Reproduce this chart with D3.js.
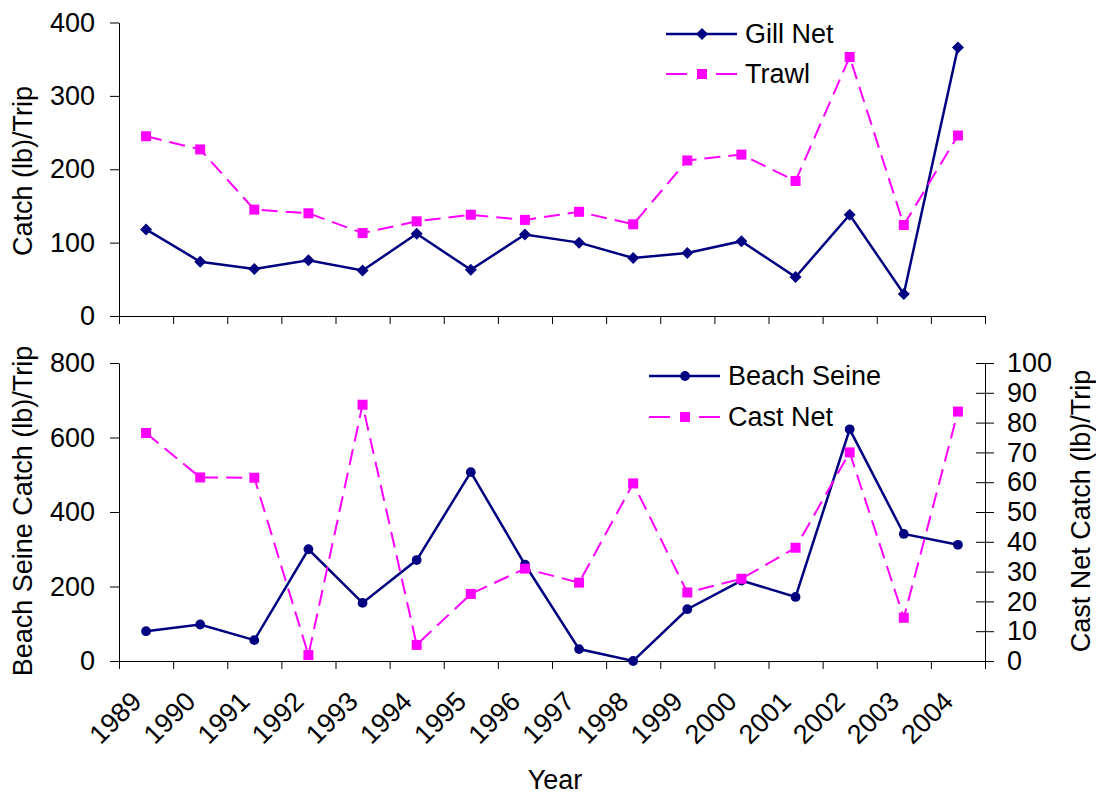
<!DOCTYPE html>
<html>
<head>
  <meta charset="utf-8">
  <title>Catch per Trip</title>
  <style>
    body { margin: 0; background: #fff; }
    svg text { font-family: "Liberation Sans", Arial, sans-serif; fill: #000; }
    .axis path, .axis line { stroke: #000; stroke-width: 1px; }
    .axis text { font-size: 27px; }
    .title { font-size: 27px; }
    .legend text { font-size: 27px; }
  </style>
</head>
<body>
  <div id="chart"></div>

  <script src="https://cdn.jsdelivr.net/npm/d3@7"></script>
  <script>
    var years = ["1989","1990","1991","1992","1993","1994","1995","1996",
                 "1997","1998","1999","2000","2001","2002","2003","2004"];

    var gillNet = [118, 74, 64, 76, 62, 112, 63, 111, 100, 79, 86, 102, 53, 138, 30, 366];
    var trawl = [245, 227, 145, 140, 113, 129, 138, 131, 142, 125, 212, 220, 184, 353, 124, 246];

    var beachSeine = [80, 98, 56, 300, 156, 271, 507, 259, 32, 0, 139, 216, 172, 622, 341, 312];
    var castNet = [76.5, 61.6, 61.5, 2, 86, 5.4, 22.5, 31, 26.3, 59.6, 23, 27.6, 38, 70, 14.5, 83.7];

    var topTicks = [0, 100, 200, 300, 400];
    var leftTicks = [0, 200, 400, 600, 800];
    var rightTicks = [0, 10, 20, 30, 40, 50, 60, 70, 80, 90, 100];

    var navy = "#000080", magenta = "#ff00ff";

    var svg = d3.select("#chart").append("svg")
      .attr("width", 1096)
      .attr("height", 795);

    var x = d3.scaleBand().domain(years).range([119, 985]).padding(0);
    var xEdge = d3.scaleLinear().domain([0, years.length]).range([119, 985]);
    function cx(d, i) { return x(years[i]) + x.bandwidth() / 2; }

    var yTop = d3.scaleLinear().domain([0, 400]).range([316, 22.5]);
    var yLeft = d3.scaleLinear().domain([0, 800]).range([661, 363]);
    var yRight = d3.scaleLinear().domain([0, 100]).range([661, 363]);

    // ---- axes
    function xAxis(yPos) {
      svg.append("g")
        .attr("class", "axis")
        .attr("transform", "translate(0," + yPos + ")")
        .call(d3.axisBottom(xEdge).tickValues(d3.range(years.length + 1))
          .tickFormat("").tickSize(8).tickSizeOuter(0));
    }
    xAxis(316);
    xAxis(661);

    svg.append("g")
      .attr("class", "axis")
      .attr("transform", "translate(119,0)")
      .call(d3.axisLeft(yTop).tickValues(topTicks).tickSize(9).tickSizeOuter(0).tickPadding(15));

    svg.append("g")
      .attr("class", "axis")
      .attr("transform", "translate(119,0)")
      .call(d3.axisLeft(yLeft).tickValues(leftTicks).tickSize(9).tickSizeOuter(0).tickPadding(15));

    var rAxis = svg.append("g")
      .attr("class", "axis")
      .attr("transform", "translate(985,0)")
      .call(d3.axisRight(yRight).tickValues(rightTicks).tickSize(9).tickSizeOuter(0).tickPadding(13));
    rAxis.selectAll(".tick line").attr("x1", -9);

    svg.selectAll(".axis .domain").attr("stroke", "#000");

    // year labels under the lower chart
    svg.append("g")
      .selectAll("text")
      .data(years)
      .enter()
      .append("text")
      .attr("class", "title")
      .attr("text-anchor", "end")
      .attr("transform", function(d) {
        return "translate(" + (x(d) + x.bandwidth() / 2 - 3) + ",703) rotate(-45)";
      })
      .text(function(d) { return d; });

    // axis titles
    svg.append("text").attr("class", "title")
      .attr("text-anchor", "middle")
      .attr("transform", "translate(32,171) rotate(-90)")
      .text("Catch (lb)/Trip");

    svg.append("text").attr("class", "title")
      .attr("text-anchor", "middle")
      .attr("transform", "translate(32,511) rotate(-90)")
      .text("Beach Seine Catch (lb)/Trip");

    svg.append("text").attr("class", "title")
      .attr("text-anchor", "middle")
      .attr("transform", "translate(1090,511) rotate(-90)")
      .text("Cast Net Catch (lb)/Trip");

    svg.append("text").attr("class", "title")
      .attr("text-anchor", "middle")
      .attr("x", 555).attr("y", 789)
      .text("Year");

    // ---- series
    function drawLine(values, yScale, color, dashed) {
      var line = d3.line().x(cx).y(function(d) { return yScale(d); });
      svg.append("path")
        .datum(values)
        .attr("fill", "none")
        .attr("stroke", color)
        .attr("stroke-width", dashed ? 2 : 2.5)
        .attr("stroke-dasharray", dashed ? "16,8" : null)
        .attr("d", line);
    }

    function drawMarkers(values, yScale, color, shape) {
      var g = svg.append("g").attr("fill", color);
      g.selectAll("path")
        .data(values)
        .enter()
        .append("path")
        .attr("transform", function(d, i) {
          return "translate(" + cx(d, i) + "," + yScale(d) + ")";
        })
        .attr("d", markerPath(shape));
    }

    function markerPath(shape) {
      if (shape === "diamond") return "M0,-6L6,0L0,6L-6,0Z";
      if (shape === "square") return "M-5,-5H5V5H-5Z";
      return d3.symbol().type(d3.symbolCircle).size(75)();
    }

    drawLine(gillNet, yTop, navy, false);
    drawMarkers(gillNet, yTop, navy, "diamond");
    drawLine(trawl, yTop, magenta, true);
    drawMarkers(trawl, yTop, magenta, "square");

    drawLine(beachSeine, yLeft, navy, false);
    drawMarkers(beachSeine, yLeft, navy, "circle");
    drawLine(castNet, yRight, magenta, true);
    drawMarkers(castNet, yRight, magenta, "square");

    // ---- legends
    function legendRow(x0, y0, label, color, dashed, shape) {
      var g = svg.append("g").attr("class", "legend");
      g.append("line")
        .attr("x1", x0).attr("x2", x0 + 71)
        .attr("y1", y0).attr("y2", y0)
        .attr("stroke", color)
        .attr("stroke-width", dashed ? 2 : 2.5)
        .attr("stroke-dasharray", dashed ? "21,29,21" : null);
      g.append("path")
        .attr("transform", "translate(" + (x0 + 36) + "," + y0 + ")")
        .attr("fill", color)
        .attr("d", markerPath(shape));
      g.append("text")
        .attr("x", x0 + 79).attr("y", y0)
        .attr("dy", "0.35em")
        .text(label);
    }

    legendRow(666, 34, "Gill Net", navy, false, "diamond");
    legendRow(666, 74, "Trawl", magenta, true, "square");
    legendRow(649, 376, "Beach Seine", navy, false, "circle");
    legendRow(649, 417, "Cast Net", magenta, true, "square");
  </script>
</body>
</html>
